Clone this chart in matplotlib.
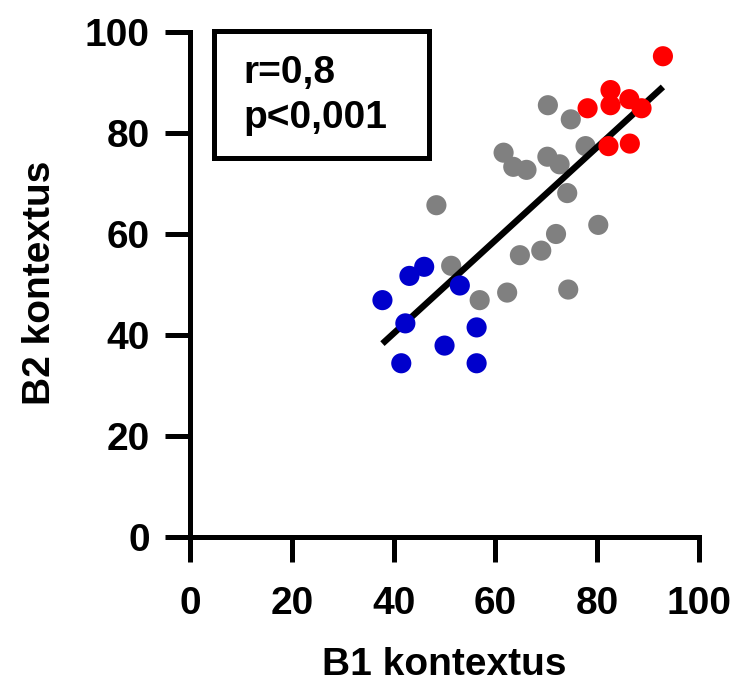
import numpy as np
import matplotlib
matplotlib.use('Agg')
import matplotlib.pyplot as plt
from matplotlib.patches import Rectangle

plt.rcParams['font.family'] = ['Liberation Sans', 'DejaVu Sans']
plt.rcParams['font.weight'] = 'bold'

# Data
gray_x = [70.3, 74.8, 77.7, 61.6, 63.5, 66.1, 70.2, 72.6, 74.1, 48.4,
          80.2, 71.9, 69.0, 64.8, 51.3, 74.3, 62.3, 56.9]
gray_y = [85.5, 82.7, 77.4, 76.1, 73.3, 72.7, 75.3, 73.8, 68.1, 65.7,
          61.8, 60.0, 56.7, 55.8, 53.7, 49.0, 48.4, 46.9]
blue_x = [46.0, 43.1, 53.0, 37.8, 42.3, 56.3, 50.0, 41.5, 56.3]
blue_y = [53.5, 51.7, 49.8, 46.9, 42.3, 41.5, 37.9, 34.4, 34.4]
red_x = [92.9, 82.6, 82.6, 78.1, 86.3, 88.7, 82.2, 86.4]
red_y = [95.2, 88.5, 85.5, 84.9, 86.7, 84.9, 77.4, 77.9]
ticks = [0, 20, 40, 60, 80, 100]
stats_text = ['r=0,8', 'p<0,001']

fig = plt.figure(figsize=(7.34, 6.91), dpi=100)
ax = fig.add_axes([0.2589, 0.2229, 0.6935, 0.7308])

ms = 210
ax.scatter(gray_x, gray_y, s=ms, color='#808080', edgecolors='none', zorder=2)

# regression line over all points (drawn above gray, below blue/red)
all_x = np.array(gray_x + blue_x + red_x)
all_y = np.array(gray_y + blue_y + red_y)
k, b = np.polyfit(all_x, all_y, 1)
xs = np.array([all_x.min(), all_x.max()])
ax.plot(xs, k * xs + b, color='black', lw=4.6, zorder=3, solid_capstyle='butt')

ax.scatter(blue_x, blue_y, s=ms, color='#0000CC', edgecolors='none', zorder=4)
ax.scatter(red_x, red_y, s=ms, color='#FF0000', edgecolors='none', zorder=5)

ax.set_xlim(0, 100)
ax.set_ylim(0, 100)
ax.set_xticks(ticks)
ax.set_yticks(ticks)
ax.spines['top'].set_visible(False)
ax.spines['right'].set_visible(False)
for s in ['left', 'bottom']:
    ax.spines[s].set_linewidth(3.6)
ax.tick_params(axis='both', length=18, width=3.6, labelsize=28)
ax.tick_params(axis='x', pad=17)
ax.tick_params(axis='y', pad=11)
for lab in ax.get_xticklabels() + ax.get_yticklabels():
    lab.set_fontweight('bold')

fig.text(444 / 734, 1 - 665 / 691, 'B1 kontextus', ha='center', va='center',
         fontsize=28, fontweight='bold')
fig.text(40 / 734, 1 - 283 / 691, 'B2 kontextus', ha='center', va='center',
         rotation=90, fontsize=28, fontweight='bold')

# stats box
W, H = 734, 691
fig.patches.append(Rectangle((214 / W, 1 - 157.5 / H), 215 / W, 126.5 / H,
                             transform=fig.transFigure, fill=False,
                             edgecolor='black', lw=3.6))
fig.text(243 / W, 1 - 83 / H, stats_text[0], ha='left', va='baseline',
         fontsize=28, fontweight='bold')
fig.text(243 / W, 1 - 128 / H, stats_text[1], ha='left', va='baseline',
         fontsize=28, fontweight='bold')

fig.savefig('out.png', dpi=100)
